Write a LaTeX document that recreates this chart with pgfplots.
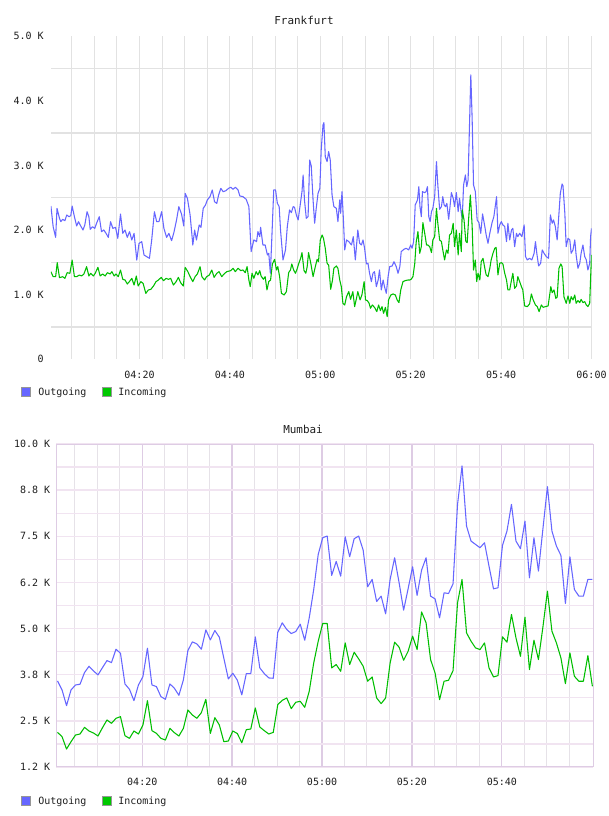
\documentclass[border=0pt]{standalone}
\usepackage{fontspec}
\usepackage{pgfplots}
\pgfplotsset{compat=1.18}
\newfontfamily\cf{DejaVu Sans Mono}
\definecolor{outc}{RGB}{102,102,255}
\definecolor{inc}{RGB}{0,190,0}
\definecolor{outleg}{RGB}{102,102,255}
\definecolor{inleg}{RGB}{0,200,0}
\definecolor{leggray}{RGB}{150,150,150}
\definecolor{tgrid}{RGB}{226,226,226}
\definecolor{bframe}{RGB}{222,204,228}
\definecolor{bmajx}{RGB}{222,204,228}
\definecolor{bhor}{RGB}{241,228,241}
\definecolor{bminx}{RGB}{230,226,232}
\definecolor{txt}{RGB}{30,30,30}
\newcommand{\chartf}{\cf\fontsize{7.5}{9}\selectfont}
\newcommand{\titlef}{\cf\fontsize{8.2}{10}\selectfont}
\pgfplotsset{
  common/.style={
    scale only axis, anchor=south west,
    scaled x ticks=false, scaled y ticks=false,
    major tick length=0pt, minor tick length=0pt,
    tick style={draw=none},
    tick label style={font=\chartf, text=txt},
    yticklabel style={anchor=east, inner sep=0pt},
    xticklabel style={anchor=north, inner sep=0pt, yshift=-8.5pt},
    xtick={20,40,60,80,100,120},
    minor xtick={5,10,15,25,30,35,45,50,55,65,70,75,85,90,95,105,110,115},
    every axis plot/.append style={line width=0.8pt, line join=round},
  }
}
\begin{document}
\begin{tikzpicture}
\path[use as bounding box] (0pt,0pt) rectangle (456pt,612pt);
% ---------------- Frankfurt ----------------
\begin{axis}[common,
  at={(38.175pt,342.6pt)}, width=405.45pt, height=242.25pt,
  xmin=0.4, xmax=120, ymin=0, ymax=5000,
  axis line style={draw=none},
  xticklabels={04:20,04:40,05:00,05:20,05:40,06:00},
  ytick={0,1000,2000,3000,4000,5000},
  yticklabels={0,1.0 K,2.0 K,3.0 K,4.0 K,5.0 K},
  yticklabel style={xshift=-5.2pt},
  minor ytick={500,1500,2500,3500,4500},
  xmajorgrids, xminorgrids, yminorgrids,
  major grid style={tgrid, line width=0.75pt},
  minor grid style={tgrid, line width=0.75pt},
  minor y grid style={tgrid, line width=1pt},
]
\addplot[outc] coordinates {(0.4,2371)(0.9,2051)(1.45,1886)(1.75,2335)(2.3,2180)(2.6,2129)(3.0,2165)(3.5,2144)(3.9,2232)(4.4,2206)(4.8,2221)(5.1,2371)(5.6,2206)(6.1,2062)(6.5,2129)(7.0,2062)(7.5,2000)(7.9,2077)(8.4,2283)(8.8,2206)(9.1,2010)(9.6,2051)(10.1,2025)(10.5,2103)(11.1,2206)(11.6,1974)(12.1,2000)(12.6,1948)(13.1,1886)(13.6,2129)(14.1,2025)(14.7,2041)(15.2,1871)(15.8,2247)(16.3,1948)(16.8,2000)(17.3,1886)(17.8,1974)(18.3,1845)(18.8,1948)(19.4,1535)(19.9,1793)(20.5,1819)(21.0,1613)(21.6,1587)(22.2,1561)(22.7,1845)(23.3,2283)(23.8,2129)(24.3,2129)(24.9,2283)(25.4,2025)(26.0,1886)(26.5,1948)(27.1,1835)(27.6,1958)(28.2,2155)(28.7,2361)(29.3,2247)(29.8,2062)(30.1,2567)(30.6,2490)(31.2,2232)(31.8,1767)(32.2,2000)(32.6,1845)(33.2,2077)(33.6,2041)(34.1,2335)(34.6,2387)(35.0,2464)(35.6,2516)(36.1,2619)(36.6,2438)(37.1,2412)(37.5,2541)(38.0,2645)(38.5,2593)(39.1,2608)(39.7,2645)
(40.2,2661)(40.7,2630)(41.2,2661)(41.8,2620)(42.2,2527)(42.9,2516)(43.6,2475)(44.2,2362)(44.7,1665)(45.3,1846)(45.9,1820)(46.2,1975)(46.6,1897)(46.8,2042)(47.3,1768)(47.8,1768)(48.3,1613)(48.6,1639)(48.95,1330)(49.2,1742)(49.7,2620)(50.1,2620)(50.5,2413)(50.9,2362)(51.2,2000)(51.75,1536)(52.3,1691)(52.7,2052)(53.2,2310)(53.6,2269)(54.0,2362)(54.3,2351)(54.7,2233)(55.1,2155)(55.4,2310)(55.95,2594)(56.2,2852)(56.5,2465)(56.9,2181)(57.3,2207)(57.65,3084)(58.0,2991)(58.4,2465)(58.75,2104)(59.1,2336)(59.5,2568)(59.9,2645)(60.2,3239)(60.6,3626)(60.8,3662)(61.1,3136)(61.5,3058)(61.85,3213)(62.2,3084)(62.6,2542)(63.0,2362)(63.55,2336)(63.9,2129)(64.3,2465)(64.5,2258)(64.8,2594)(65.1,2181)(65.4,1691)(65.8,1846)(66.3,1820)(66.9,1768)(67.3,1897)(67.75,1536)(68.3,2000)(68.7,1794)(69.1,1768)(69.45,1846)(69.8,1717)(70.2,1474)(70.55,1484)(70.9,1330)(71.3,1201)(71.65,1330)(72.0,1355)(72.4,1123)(72.8,1226)(73.1,1381)(73.5,1072)(73.9,1226)(74.2,1123)(74.6,1020)(75.0,1278)(75.35,1433)(75.9,1443)(76.3,1510)(76.8,1433)(77.2,1330)(77.6,1433)(77.9,1665)(78.5,1701)(79.0,1717)(79.55,1691)
(80.0,1768)(80.3,1717)(80.65,1820)(81.0,2387)(81.5,2465)(81.8,2671)(82.05,2362)(82.35,2207)(82.6,2594)(83.1,2578)(83.4,2594)(83.7,2671)(84.0,2207)(84.3,2129)(84.6,2284)(84.9,2336)(85.3,2516)(85.7,3058)(86.0,2697)(86.4,2320)(86.8,2362)(87.1,2516)(87.4,2387)(87.7,2362)(88.0,2413)(88.4,2166)(88.7,2362)(89.0,2578)(89.4,2491)(89.7,2362)(90.1,2578)(90.5,2284)(90.8,2491)(91.2,2258)(91.4,2181)(91.7,2697)(92.1,2852)(92.4,2671)(92.7,2774)(93.0,3600)(93.3,4400)(93.6,3703)(93.9,2697)(94.3,2594)(94.7,2155)(95.1,2114)(95.5,1949)(95.9,2248)(96.4,2052)(96.7,1923)(97.1,1794)(97.5,1949)(98.0,2114)(98.4,2207)(98.7,2362)(99.0,2516)(99.3,1949)(99.7,2078)(100.05,2129)(100.4,2078)(100.8,2052)(101.2,1820)(101.5,2104)(101.9,1846)(102.3,2000)(102.6,2026)(103.0,1742)(103.4,1949)(103.7,1897)(104.1,1949)(104.6,1897)(105.1,2078)(105.4,1588)(105.8,1536)(106.3,1562)(106.8,1536)(107.3,1639)(107.6,1820)(107.9,1639)(108.3,1443)(108.75,1484)(109.1,1691)(109.5,1639)(110.0,1588)(110.5,1562)(110.9,2233)(111.3,2104)(111.6,2155)(112.0,2052)(112.4,1846)(112.7,2155)(113.1,2568)(113.5,2713)(113.7,2681)(114.1,2258)(114.4,1742)(114.8,1871)(115.2,1846)(115.5,1639)(115.9,1691)(116.3,1846)(116.6,1613)(117.0,1407)(117.4,1484)(117.7,1639)(118.1,1768)(118.5,1588)(118.85,1536)(119.2,1381)(119.6,1484)(119.8,1897)(120.0,2026)};
\addplot[inc] coordinates {(0.4,1355)(0.9,1277)(1.45,1277)(1.8,1494)(2.3,1262)(3.0,1277)(3.5,1251)(4.0,1339)(4.6,1329)(5.1,1535)(5.6,1277)(6.1,1277)(6.7,1303)(7.2,1288)(7.7,1319)(8.3,1432)(8.8,1288)(9.2,1329)(9.8,1288)(10.2,1329)(10.8,1422)(11.3,1288)(11.85,1319)(12.4,1288)(12.9,1339)(13.5,1319)(13.9,1355)(14.4,1288)(14.8,1319)(15.3,1277)(15.8,1380)(16.3,1236)(16.8,1226)(17.3,1164)(17.75,1200)(18.3,1251)(18.8,1148)(19.3,1288)(19.7,1133)(20.3,1200)(20.8,1174)(21.4,1019)(21.95,1071)(22.5,1081)(23.1,1133)(23.65,1200)(24.2,1226)(24.8,1267)(25.3,1215)(25.9,1251)(26.4,1236)(26.9,1251)(27.5,1148)(28.1,1200)(28.6,1267)(29.1,1184)(29.7,1133)(30.1,1422)(30.7,1355)(31.2,1277)(31.8,1200)(32.3,1277)(32.8,1319)(33.4,1432)(33.8,1277)(34.4,1226)(34.85,1277)(35.45,1303)(36.0,1380)(36.5,1267)(37.1,1329)(37.6,1355)(38.2,1277)(38.7,1319)(39.3,1355)
(40.2,1371)(40.7,1407)(41.2,1355)(41.8,1407)(42.4,1371)(42.9,1381)(43.4,1340)(43.8,1433)(44.2,1226)(44.5,1123)(44.9,1330)(45.3,1252)(45.8,1355)(46.2,1304)(46.6,1371)(46.9,1288)(47.4,1237)(47.8,1278)(48.2,1072)(48.6,1201)(49.0,1226)(49.4,1474)(49.9,1546)(50.3,1381)(50.6,1433)(51.0,1278)(51.4,1020)(52.0,994)(52.5,1046)(53.0,1340)(53.4,1381)(53.7,1474)(54.1,1381)(54.5,1330)(54.85,1392)(55.2,1474)(55.65,1562)(55.95,1650)(56.4,1371)(56.8,1330)(57.1,1433)(57.4,1650)(57.9,1484)(58.4,1278)(58.9,1433)(59.3,1546)(59.6,1510)(60.0,1846)(60.4,1923)(60.7,1872)(61.1,1717)(61.5,1484)(61.85,1459)(62.3,1082)(62.7,1226)(63.0,1407)(63.55,1443)(63.9,1407)(64.3,1226)(64.65,1123)(65.0,865)(65.4,839)(65.8,968)(66.3,1046)(66.7,927)(67.2,1046)(67.6,814)(68.05,958)(68.3,1046)(68.8,917)(69.2,994)(69.7,1201)(70.0,917)(70.4,907)(70.8,865)(71.1,788)(71.5,839)(72.0,803)(72.5,736)(72.9,839)(73.3,752)(73.65,814)(74.0,710)(74.4,803)(74.8,659)(75.1,917)(75.6,994)(76.1,1010)(76.6,994)(77.0,917)(77.4,876)(77.8,1072)(78.3,1201)(78.8,1216)(79.4,1226)
(79.8,1226)(80.1,1237)(80.5,1278)(80.9,1484)(81.2,1804)(81.6,1975)(82.0,1639)(82.35,1742)(82.7,2114)(83.1,1949)(83.5,1768)(83.8,1768)(84.2,1742)(84.6,1650)(84.9,1846)(85.3,1897)(85.7,2336)(86.0,2104)(86.4,1846)(86.8,1820)(87.1,1691)(87.5,1536)(87.9,1691)(88.25,1639)(88.6,1923)(89.0,1949)(89.4,2104)(89.7,1742)(90.1,2000)(90.5,1613)(90.8,1949)(91.2,1665)(91.4,2310)(91.8,2155)(92.2,1820)(92.5,1804)(92.8,2155)(93.2,2542)(93.6,2052)(93.9,1381)(94.3,1536)(94.6,1201)(94.9,1330)(95.3,1226)(95.6,1510)(96.0,1562)(96.4,1407)(96.7,1304)(97.1,1278)(97.5,1407)(97.8,1536)(98.2,1639)(98.6,1717)(98.9,1732)(99.3,1304)(99.7,1484)(100.05,1495)(100.4,1474)(100.8,1330)(101.2,1226)(101.5,1072)(101.9,1072)(102.3,1226)(102.6,1330)(103.0,1097)(103.4,1134)(103.7,1278)(104.1,1201)(104.5,1123)(104.8,1072)(105.2,824)(105.8,814)(106.3,855)(106.7,1010)(107.05,927)(107.6,839)(108.0,814)(108.4,736)(108.9,839)(109.3,803)(109.8,814)(110.4,824)(111.0,1123)(111.3,1030)(111.7,1072)(112.1,943)(112.4,958)(112.8,1407)(113.2,1474)(113.5,1433)(113.9,968)(114.4,865)(114.8,979)(115.2,865)(115.5,968)(115.9,917)(116.3,994)(116.6,865)(117.0,907)(117.4,876)(117.7,927)(118.1,876)(118.5,891)(118.85,839)(119.2,814)(119.6,865)(119.8,1252)(120.0,1613)};
\end{axis}
% ---------------- Mumbai ----------------
\begin{axis}[common,
  at={(42.15pt,36.975pt)}, width=402.8pt, height=241.8pt,
  xmin=0.85, xmax=120.35, ymin=1250, ymax=10000,
  axis line style={draw=bframe, line width=1pt},
  xtick={20,40,60,80,100},
  xticklabels={04:20,04:40,05:00,05:20,05:40},
  ytick={1250,2500,3750,5000,6250,7500,8750,10000},
  yticklabels={1.2 K,2.5 K,3.8 K,5.0 K,6.2 K,7.5 K,8.8 K,10.0 K},
  yticklabel style={xshift=-4.35pt},
  minor ytick={1875,3125,4375,5625,6875,8125,9375},
  xmajorgrids, xminorgrids, ymajorgrids, yminorgrids,
  major x grid style={bmajx, line width=1pt},
  minor x grid style={bminx, line width=0.75pt},
  major y grid style={bhor, line width=1.3pt},
  minor y grid style={bhor, line width=1.3pt},
]
\addplot[outc] coordinates {(1.15,3578)(2.15,3333)(3.15,2907)(4.15,3333)(5.15,3469)(6.15,3487)(7.15,3804)(8.15,3976)(9.15,3849)(10.15,3741)(11.15,3940)(12.15,4130)(13.15,4076)(14.15,4438)(15.15,4330)(16.15,3496)(17.15,3351)(18.15,3043)(19.15,3469)(20.15,3695)(21.15,4465)(22.15,3469)(23.15,3424)(24.15,3152)(25.15,3079)(26.15,3496)(27.15,3378)(28.15,3188)(29.15,3605)(30.15,4402)(31.15,4638)(32.15,4583)(33.15,4438)(34.15,4964)(35.15,4692)(36.15,4946)(37.15,4764)(38.15,4194)(39.15,3632)(40.15,3786)(41.15,3600)(42.15,3200)(43.15,3777)(44.15,3777)(45.15,4773)(46.15,3931)(47.15,3777)(48.15,3659)(49.15,3650)(50.15,4900)(51.15,5154)(52.15,4973)(53.15,4864)(54.15,4918)(55.15,5118)(56.15,4683)(57.15,5290)(58.15,6060)(59.15,7011)(60.15,7464)(61.15,7510)(62.15,6441)(63.15,6821)(64.15,6422)(65.15,7491)(66.15,6948)(67.15,7437)(68.15,7510)(69.15,7129)(70.15,6133)(71.15,6332)(72.15,5734)(73.15,5879)(74.15,5399)(75.15,6332)(76.15,6921)(77.15,6241)(78.15,5498)(79.15,6078)(80.15,6676)(81.15,5900)(82.15,6586)(83.15,6921)(84.15,5879)(85.15,5806)(86.15,5290)(87.15,5969)(88.15,5951)(89.15,6214)(90.15,8370)(91.15,9412)(92.15,7781)(93.15,7374)(94.15,7283)(95.15,7193)(96.15,7328)(97.15,6694)(98.15,6078)(99.15,6105)(100.15,7256)(101.15,7646)(102.15,8370)(103.15,7374)(104.15,7166)(105.15,7917)(106.15,6377)(107.15,7464)(108.15,6558)(109.15,7709)(110.15,8851)(111.15,7646)(112.15,7238)(113.15,6984)(114.15,5680)(115.15,6948)(116.15,6060)(117.15,5879)(118.15,5879)(119.15,6332)(120.15,6332)};
\addplot[inc] coordinates {(1.15,2182)(2.15,2065)(3.15,1729)(4.15,1929)(5.15,2110)(6.15,2137)(7.15,2318)(8.15,2219)(9.15,2164)(10.15,2083)(11.15,2309)(12.15,2518)(13.15,2427)(14.15,2563)(15.15,2608)(16.15,2092)(17.15,2019)(18.15,2219)(19.15,2137)(20.15,2382)(21.15,3043)(22.15,2228)(23.15,2155)(24.15,2019)(25.15,1974)(26.15,2291)(27.15,2173)(28.15,2083)(29.15,2291)(30.15,2789)(31.15,2653)(32.15,2563)(33.15,2717)(34.15,3079)(35.15,2155)(36.15,2581)(37.15,2382)(38.15,1929)(39.15,1947)(40.15,2219)(41.15,2150)(42.15,1900)(43.15,2255)(44.15,2273)(45.15,2844)(46.15,2327)(47.15,2228)(48.15,2137)(49.15,2182)(50.15,2934)(51.15,3052)(52.15,3115)(53.15,2826)(54.15,2998)(55.15,3025)(56.15,2862)(57.15,3297)(58.15,4067)(59.15,4656)(60.15,5136)(61.15,5136)(62.15,3931)(63.15,4022)(64.15,3840)(65.15,4610)(66.15,4022)(67.15,4357)(68.15,4176)(69.15,3977)(70.15,3569)(71.15,3686)(72.15,3115)(73.15,2962)(74.15,3115)(75.15,4067)(76.15,4629)(77.15,4493)(78.15,4139)(79.15,4384)(80.15,4792)(81.15,4429)(82.15,5450)(83.15,5154)(84.15,4157)(85.15,3795)(86.15,3070)(87.15,3569)(88.15,3596)(89.15,3858)(90.15,5698)(91.15,6332)(92.15,4882)(93.15,4656)(94.15,4475)(95.15,4429)(96.15,4610)(97.15,3931)(98.15,3686)(99.15,3722)(100.15,4774)(101.15,4629)(102.15,5380)(103.15,4746)(104.15,4248)(105.15,5308)(106.15,3886)(107.15,4683)(108.15,4157)(109.15,5045)(110.15,6015)(111.15,4928)(112.15,4610)(113.15,4203)(114.15,3505)(115.15,4339)(116.15,3704)(117.15,3569)(118.15,3569)(119.15,4266)(120.15,3432)};
\end{axis}
% titles
\node[font=\titlef, text=txt] at (228pt,596.5pt) {Frankfurt};
\node[font=\titlef, text=txt] at (227.25pt,290.25pt) {Mumbai};
% legends
\foreach \yy in {318, 11.5} {
  \filldraw[fill=outleg, draw=leggray, line width=0.6pt] (15.75pt,\yy pt-3.375pt) rectangle (22.5pt,\yy pt+3.375pt);
  \node[font=\chartf, text=txt, anchor=base west, inner sep=0pt] at (28.5pt,\yy pt-2.7pt) {Outgoing};
  \filldraw[fill=inleg, draw=leggray, line width=0.6pt] (76.5pt,\yy pt-3.375pt) rectangle (83.25pt,\yy pt+3.375pt);
  \node[font=\chartf, text=txt, anchor=base west, inner sep=0pt] at (88.5pt,\yy pt-2.7pt) {Incoming};
}
\end{tikzpicture}
\end{document}
